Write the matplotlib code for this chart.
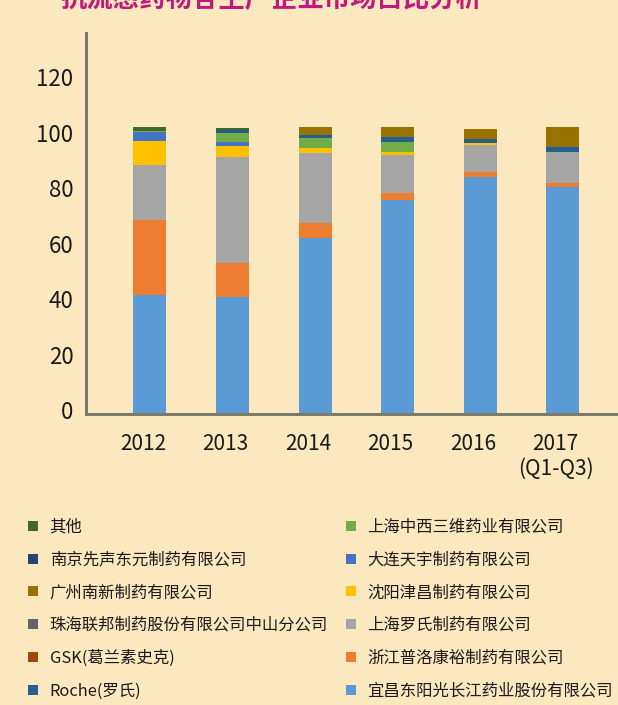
import matplotlib
matplotlib.use("Agg")
import matplotlib.pyplot as plt
import matplotlib.transforms as mtransforms
from matplotlib.lines import Line2D
import numpy as np

plt.rcParams['font.family'] = ['Noto Sans CJK SC', 'DejaVu Sans']

title = "抗流感药物各生产企业市场占比分析"
years = ['2012', '2013', '2014', '2015', '2016', '2017\n(Q1-Q3)']
yticks = [0, 20, 40, 60, 80, 100, 120]

# stacking order, bottom to top
companies = [
    '宜昌东阳光长江药业股份有限公司',
    '浙江普洛康裕制药有限公司',
    '上海罗氏制药有限公司',
    '沈阳津昌制药有限公司',
    '大连天宇制药有限公司',
    '上海中西三维药业有限公司',
    'Roche(罗氏)',
    'GSK(葛兰素史克)',
    '珠海联邦制药股份有限公司中山分公司',
    '广州南新制药有限公司',
    '南京先声东元制药有限公司',
    '其他',
]
yichang   = [43.0, 42.3, 63.4, 77.3, 85.5, 82.1]
zhejiang  = [27.1, 12.3, 5.4, 2.6, 2.0, 1.2]
sh_roche  = [19.9, 38.0, 25.3, 13.6, 9.6, 11.2]
shenyang  = [8.4, 4.1, 1.8, 1.2, 0.8, 0.0]
dalian    = [3.2, 1.5, 0.0, 0.0, 0.0, 0.0]
zhongxi   = [0.5, 3.2, 3.6, 3.6, 0.0, 0.0]
roche     = [0.0, 1.0, 1.2, 1.8, 1.2, 1.8]
gsk       = [0.0, 0.0, 0.0, 0.0, 0.0, 0.0]
zhuhai    = [0.0, 0.0, 0.0, 0.0, 0.0, 0.0]
guangzhou = [0.0, 0.0, 2.8, 3.4, 3.9, 7.2]
nanjing   = [0.0, 0.0, 0.0, 0.0, 0.0, 0.0]
others    = [1.5, 0.9, 0.0, 0.0, 0.0, 0.0]

colors = ['#5B9BD5', '#ED7D31', '#A5A5A5', '#FFC000', '#4472C4', '#70AD47',
          '#255E91', '#9E480E', '#636363', '#997300', '#264478', '#43682B']

bg = '#fce8bf'
fig = plt.figure(figsize=(6.18, 7.05), dpi=100, facecolor=bg)
ax = fig.add_axes([86 / 618, 1 - 414 / 705, (618 - 86) / 618, (414 - 33) / 705])
ax.patch.set_alpha(0)

data = [yichang, zhejiang, sh_roche, shenyang, dalian, zhongxi,
        roche, gsk, zhuhai, guangzhou, nanjing, others]
x = np.arange(len(years))
bottom = np.zeros(len(years))
for vals, c in zip(data, colors):
    ax.bar(x, vals, 0.40, bottom=bottom, color=c, linewidth=0)
    bottom += np.array(vals)

ax.set_xlim(-0.775, 5.67)
ax.set_ylim(0, 137.5)
ax.set_yticks(yticks)
ax.set_xticks(x)
ax.set_xticklabels(years, fontsize=15, color='#1a1a1a', linespacing=1.15)
ax.tick_params(axis='y', labelsize=16, labelcolor='#1a1a1a', length=0, pad=9)
ax.tick_params(axis='x', length=0, pad=14)
for s in ['top', 'right']:
    ax.spines[s].set_visible(False)
for s in ['left', 'bottom']:
    ax.spines[s].set_color('#7b7b6b')
    ax.spines[s].set_linewidth(2.2)

up = mtransforms.ScaledTranslation(0, 4 / 100, fig.dpi_scale_trans)
for lab in ax.get_yticklabels():
    lab.set_transform(lab.get_transform() + up)
left = mtransforms.ScaledTranslation(-7 / 100, 0, fig.dpi_scale_trans)
for lab in ax.get_xticklabels():
    lab.set_transform(lab.get_transform() + left)

# title is cut by the top edge in the source image
fig.text(60 / 618, 1 - 13 / 705, title, fontsize=19, fontweight='bold',
         color='#c2187e', va='bottom', ha='left')

handles = [Line2D([], [], marker='s', linestyle='none', markersize=6.5,
                  markerfacecolor=c, markeredgewidth=0) for c in colors]
leg = fig.legend(handles[::-1], companies[::-1], ncol=2, frameon=False,
                 loc='upper left', bbox_to_anchor=(12 / 618, 1 - 504 / 705),
                 fontsize=11.8, handlelength=0.8, handletextpad=0.6,
                 columnspacing=1.0, labelspacing=0.96)
for t in leg.get_texts():
    t.set_color('#1a1a1a')

fig.savefig('out.png', dpi=100, facecolor=bg)
